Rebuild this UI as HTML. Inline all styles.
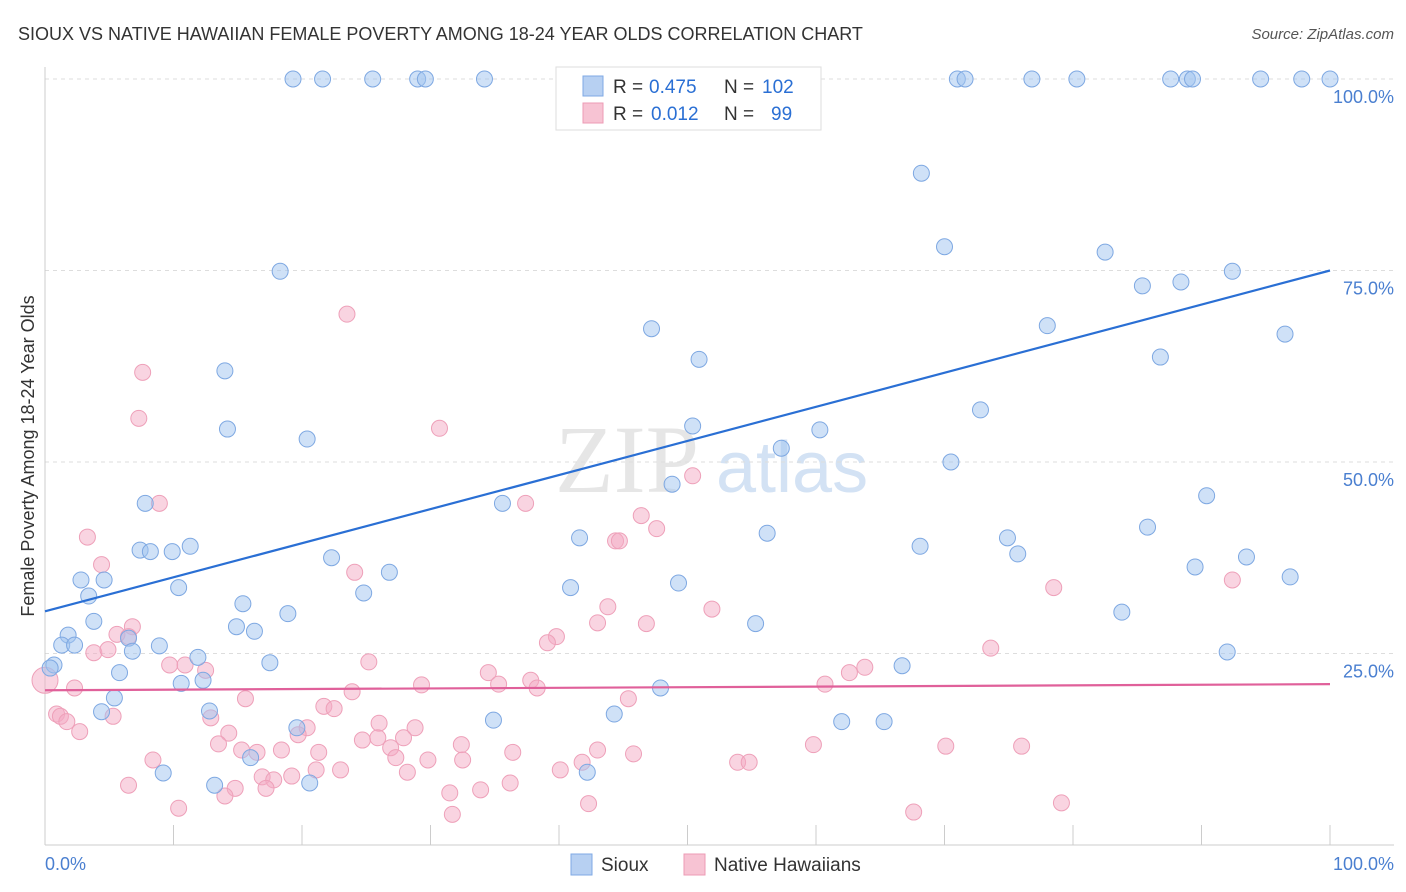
<!DOCTYPE html>
<html><head><meta charset="utf-8">
<style>
body{margin:0;background:#fff;font-family:"Liberation Sans",sans-serif;}
#c{position:relative;width:1406px;height:892px;overflow:hidden;}
</style></head>
<body>
<div id="c">
<svg id="s" width="1406" height="892" xmlns="http://www.w3.org/2000/svg">
<text x="18" y="40" font-size="18" fill="#333">SIOUX VS NATIVE HAWAIIAN FEMALE POVERTY AMONG 18-24 YEAR OLDS CORRELATION CHART</text>
<text x="1394" y="39" font-size="15" font-style="italic" fill="#555" text-anchor="end">Source: ZipAtlas.com</text>
<text x="555" y="492" font-size="96" font-family="Liberation Serif" fill="#e6e6e6">ZIP</text>
<text x="716" y="492" font-size="72" fill="#d3e2f4">atlas</text>
<text transform="translate(34,456) rotate(-90)" font-size="18" fill="#333" text-anchor="middle">Female Poverty Among 18-24 Year Olds</text>
<g id="grid"></g><g id="pts"></g><g id="trend"></g>
<text x="45" y="870" font-size="18" fill="#4a7fd0">0.0%</text>
<text x="1394" y="870" font-size="18" fill="#4a7fd0" text-anchor="end">100.0%</text>
<g>
<rect x="556" y="67" width="265" height="63" fill="#fff" stroke="#ddd"/>
<rect x="583" y="76" width="20" height="20" fill="#b7d0f2" stroke="#7fa9e4"/>
<rect x="583" y="103" width="20" height="20" fill="#f7c3d3" stroke="#ec9bb5"/>
<text x="613" y="93" font-size="19" fill="#333">R =</text>
<text x="649" y="93" font-size="19" fill="#2a6fd4">0.475</text>
<text x="724" y="93" font-size="19" fill="#333">N =</text>
<text x="762" y="93" font-size="19" fill="#2a6fd4">102</text>
<text x="613" y="120" font-size="19" fill="#333">R =</text>
<text x="651" y="120" font-size="19" fill="#2a6fd4">0.012</text>
<text x="724" y="120" font-size="19" fill="#333">N =</text>
<text x="771" y="120" font-size="19" fill="#2a6fd4">99</text>
</g>
<g>
<rect x="571" y="854" width="21" height="21" fill="#b7d0f2" stroke="#7fa9e4"/>
<text x="601" y="871" font-size="19" fill="#333">Sioux</text>
<rect x="684" y="854" width="21" height="21" fill="#f7c3d3" stroke="#ec9bb5"/>
<text x="714" y="871" font-size="19" fill="#333">Native Hawaiians</text>
</g>
</svg>
</div>
<script>
const yTicks=[25,50,75,100];
const yTickLabels=["25.0%","50.0%","75.0%","100.0%"];
const xTicks=[0,10,20,30,40,50,60,70,80,90,100];
const siouxX=[19.3,21.6,25.5,29.0,29.6,34.2,52.0,71.0,71.6,76.8,80.3,87.6,88.9,89.3,94.6,97.8,100,68.2,70.0,82.5,18.3,85.4,88.4,92.4,47.2,78.0,96.5,50.9,86.8,14.0,72.8,14.2,20.4,50.4,60.3,57.3,70.5,48.8,7.8,35.6,90.4,85.8,41.6,56.2,7.4,8.2,9.9,11.3,68.1,74.9,75.7,93.5,22.3,26.8,2.8,4.6,89.5,96.9,10.4,24.8,40.9,49.3,3.4,15.4,18.9,83.8,3.8,14.9,16.3,55.3,1.8,6.5,1.3,2.3,8.9,6.8,92.0,0.7,11.9,17.5,66.7,5.8,10.6,12.3,47.9,5.4,4.4,12.8,44.3,34.9,62.0,65.3,19.6,16.0,9.2,42.2,13.2,20.6,0.4];
const siouxY=[100,100,100,100,100,100,100,100,100,100,100,100,100,100,100,100,100,87.7,78.1,77.4,74.9,73.0,73.5,74.9,67.4,67.8,66.7,63.4,63.7,61.9,56.8,54.3,53.0,54.7,54.2,51.8,50.0,47.1,44.6,44.6,45.6,41.5,40.1,40.7,38.5,38.3,38.3,39.0,39.0,40.1,38.0,37.6,37.5,35.6,34.6,34.6,36.3,35.0,33.6,32.9,33.6,34.2,32.5,31.5,30.2,30.4,29.2,28.5,27.9,28.9,27.4,27.0,26.1,26.1,26.0,25.3,25.2,23.5,24.5,23.8,23.4,22.5,21.1,21.5,20.5,19.2,17.4,17.5,17.1,16.3,16.1,16.1,15.3,11.4,9.4,9.5,7.8,8.1,23.1];
const hawX=[23.5,7.6,7.3,30.7,8.9,37.4,50.4,3.3,46.4,47.6,44.4,44.7,4.4,24.1,92.4,78.5,43.8,51.9,43.0,46.8,6.8,5.6,6.5,39.8,39.1,3.8,4.9,73.6,25.2,9.7,10.9,12.5,63.8,62.6,34.5,35.3,37.8,38.3,29.3,60.7,2.3,23.9,15.6,45.4,21.7,22.5,0.9,1.2,5.3,1.7,2.7,12.9,14.3,20.4,26.0,28.8,27.9,13.5,15.3,16.5,18.4,21.3,26.9,24.7,25.9,32.4,43.0,45.8,36.4,8.4,27.3,29.8,32.5,41.8,53.9,54.8,59.8,70.1,76.0,19.7,21.1,23.0,28.2,40.1,16.9,19.2,17.8,6.5,14.8,33.9,36.2,31.5,17.2,10.4,14.0,42.3,31.7,67.6,79.1];
const hawY=[69.3,61.7,55.7,54.4,44.6,44.6,48.2,40.2,43.0,41.3,39.7,39.7,36.6,35.6,34.6,33.6,31.1,30.8,29.0,28.9,28.5,27.5,27.2,27.2,26.4,25.1,25.5,25.7,23.9,23.5,23.5,22.8,23.2,22.5,22.5,21.0,21.5,20.5,20.9,21.0,20.5,20.0,19.1,19.1,18.1,17.8,17.1,16.8,16.8,16.1,14.8,16.6,14.6,15.3,15.9,15.3,14.0,13.2,12.4,12.1,12.4,12.1,12.7,13.7,14.0,13.1,12.4,11.9,12.1,11.1,11.4,11.1,11.1,10.8,10.8,10.8,13.1,12.9,12.9,14.4,9.8,9.8,9.5,9.8,8.9,9.0,8.5,7.8,7.4,7.2,8.1,6.8,7.4,4.8,6.4,5.4,4.0,4.3,5.5];
const siouxTrend=[30.5,75];
const hawTrend=[20.2,21.0];

const NS="http://www.w3.org/2000/svg";
const X=v=>45+v*12.85, Y=v=>845-v*7.66;
function mk(t,a,p){const e=document.createElementNS(NS,t);for(const k in a)e.setAttribute(k,a[k]);p.appendChild(e);return e;}
const g=document.getElementById('grid');
yTicks.forEach((t,i)=>{
 const l=mk('line',{x1:45,x2:1394,y1:Y(t),y2:Y(t),stroke:'#ddd','stroke-dasharray':'4,4'},g);
 
 
 const tx=mk('text',{x:1394,y:Y(t)+24,'font-size':18,fill:'#4a7fd0','text-anchor':'end'},g);
 tx.textContent=yTickLabels[i];
 
 
});
const ax=mk('line',{x1:45,x2:1394,y1:845,y2:845,stroke:'#ccc'},g);


const ay=mk('line',{x1:45,x2:45,y1:67,y2:845,stroke:'#ccc'},g);


xTicks.forEach(t=>{
 const l=mk('line',{x1:X(t),x2:X(t),y1:825,y2:845,stroke:'#ccc'},g);
 
 
});
const P=document.getElementById('pts');
hawX.forEach((x,i)=>{
 const c=mk('circle',{cx:X(x),cy:Y(hawY[i]),r:8,fill:'rgba(244,170,195,0.5)',stroke:'#eea0b9','stroke-width':1},P);
 
 
});
const big=mk('circle',{cx:X(0),cy:Y(21.5),r:13,fill:'rgba(244,170,195,0.5)',stroke:'#eea0b9'},P);


siouxX.forEach((x,i)=>{
 const c=mk('circle',{cx:X(x),cy:Y(siouxY[i]),r:8,fill:'rgba(160,195,240,0.5)',stroke:'#7ea8e2','stroke-width':1},P);
 
 
});
const T=document.getElementById('trend');
const t1=mk('line',{x1:X(0),y1:Y(siouxTrend[0]),x2:X(100),y2:Y(siouxTrend[1]),stroke:'#2a6fd4','stroke-width':2.2},T);


const t2=mk('line',{x1:X(0),y1:Y(hawTrend[0]),x2:X(100),y2:Y(hawTrend[1]),stroke:'#e0609a','stroke-width':2.2},T);


</script>
</body></html>
